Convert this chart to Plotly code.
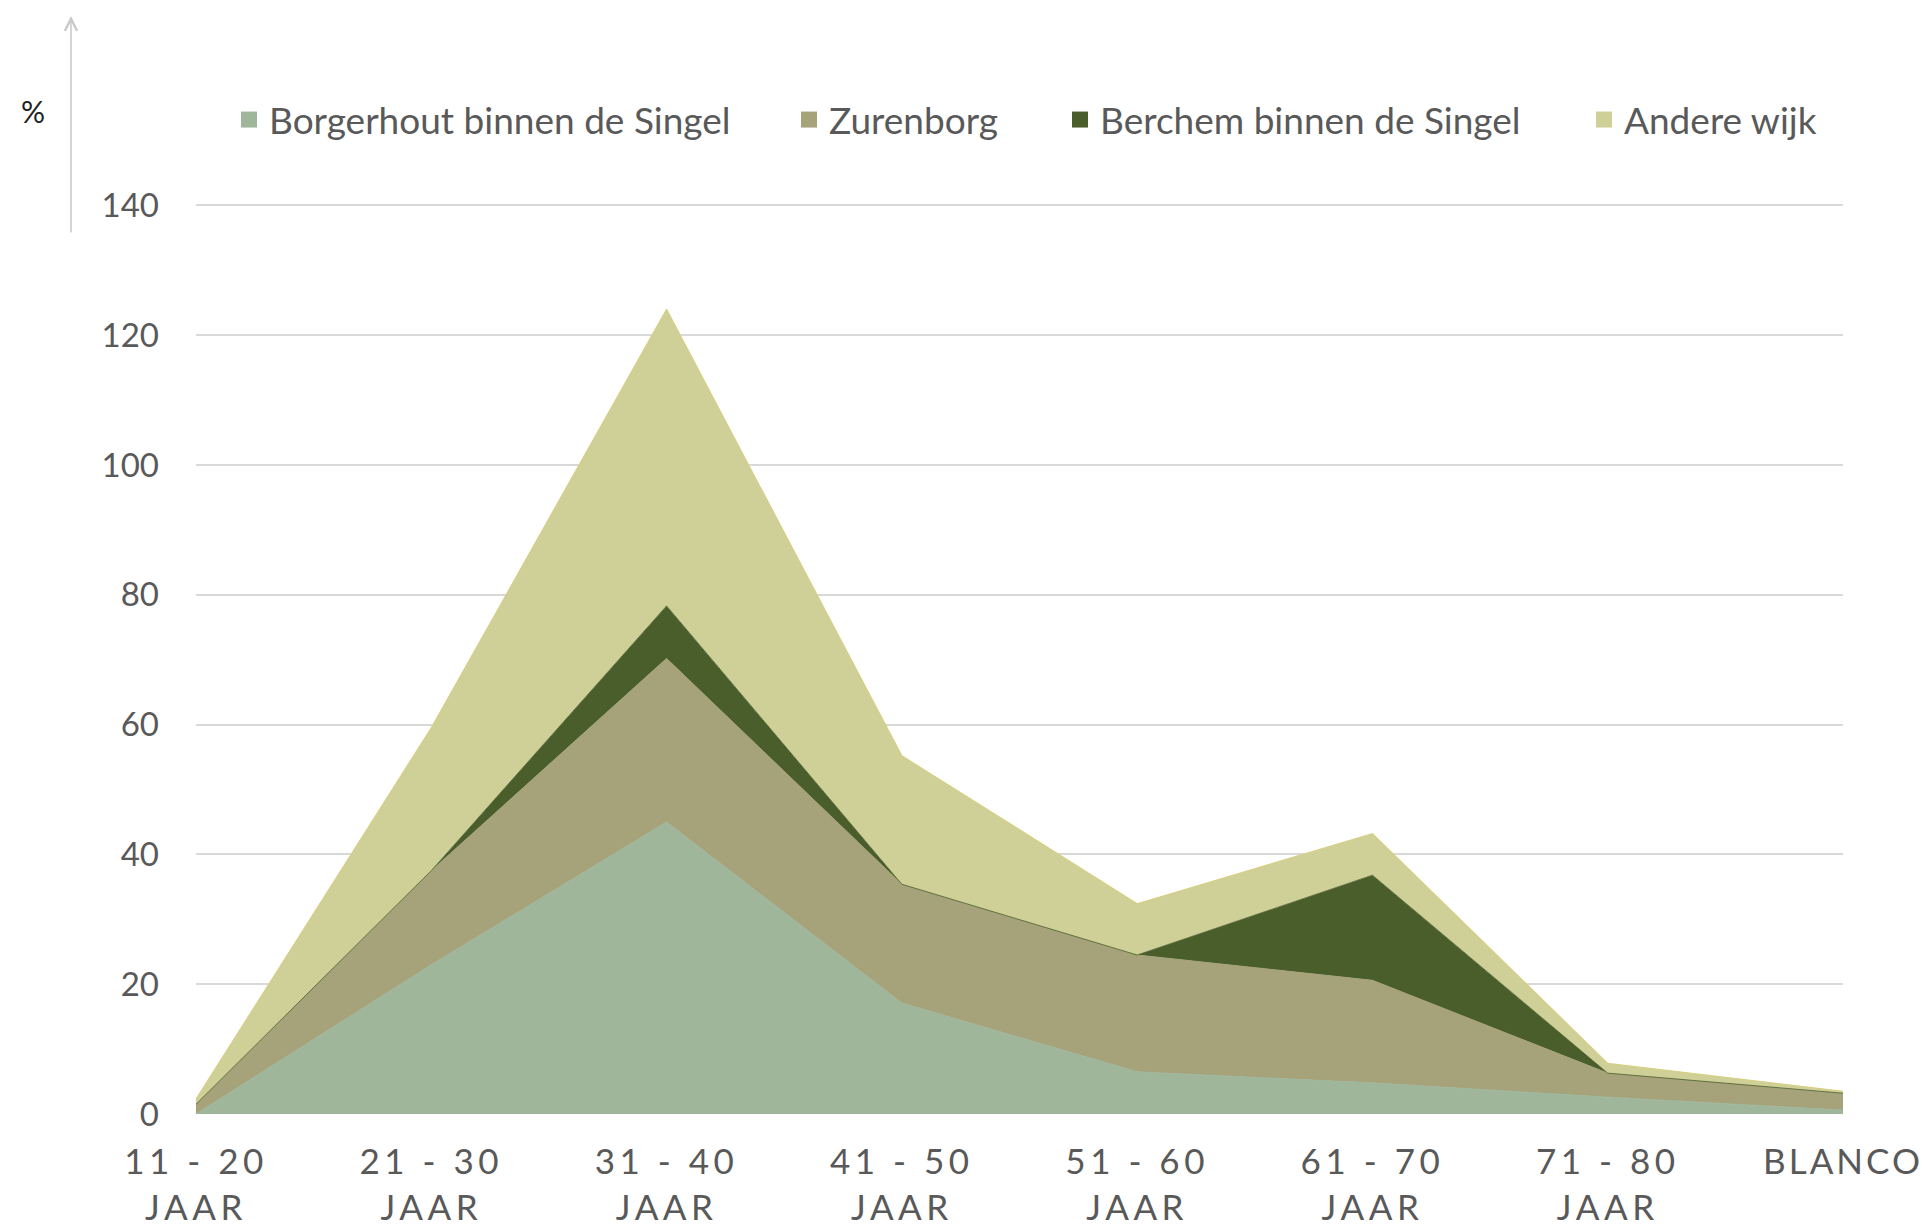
import plotly.graph_objects as go

categories = ["11 - 20<br>JAAR", "21 - 30<br>JAAR", "31 - 40<br>JAAR", "41 - 50<br>JAAR",
              "51 - 60<br>JAAR", "61 - 70<br>JAAR", "71 - 80<br>JAAR", "BLANCO"]

borgerhout = [0.0, 23.0, 45.0, 17.1, 6.5, 4.8, 2.6, 0.6]
zurenborg = [1.5, 14.5, 25.2, 18.3, 18.0, 15.8, 3.7, 2.6]
berchem = [0.0, 0.0, 8.1, 0.0, 0.0, 16.2, 0.0, 0.0]
andere = [0.8, 22.0, 45.7, 19.8, 7.9, 6.4, 1.5, 0.3]

series_names = ["Borgerhout binnen de Singel", "Zurenborg", "Berchem binnen de Singel", "Andere wijk"]
series_values = [borgerhout, zurenborg, berchem, andere]
fill_colors = ["#A0B69B", "#A6A27A", "#4A5E2C", "#CFCF98"]
edge_colors = ["#A0B69B", "#A6A27A", "#4A5E2C", "#D6CF85"]
edge_widths = [1.0, 1.0, 0.8, 1.2]

y_ticks = [0, 20, 40, 60, 80, 100, 120, 140]
Y_MAX = 141

W, H = 1922, 1231
ML, MR, MB = 196, 79, 117
PX_PER_UNIT = (1114 - 205) / 140.0
MT = int(round(205 - (Y_MAX - 140) * PX_PER_UNIT))
PW, PH = W - ML - MR, H - MT - MB

def px_x(x):
    return (x - ML) / PW

def px_y(y):
    return (H - MB - y) / PH

FONT = "Lato"
TXT = "#595959"

fig = go.Figure()
for name, vals, fc, ec, ew in zip(series_names, series_values, fill_colors, edge_colors, edge_widths):
    fig.add_trace(go.Scatter(
        x=categories, y=vals, name=name, mode="lines",
        stackgroup="one", fillcolor=fc,
        line=dict(color=ec, width=ew),
        showlegend=False, hoverinfo="skip",
    ))

# legend entries (square symbols), each in its own legend box
legend_left_px = [229, 789, 1060, 1584]
for i, (name, fc) in enumerate(zip(series_names, fill_colors)):
    lg = "legend" if i == 0 else f"legend{i+1}"
    fig.add_trace(go.Scatter(
        x=[None], y=[None], mode="markers", name=name,
        marker=dict(symbol="square", size=22, color=fc),
        legend=lg, showlegend=True,
    ))

legend_common = dict(
    orientation="h", xanchor="left", yanchor="middle",
    font=dict(family=FONT, size=37, color=TXT),
    bgcolor="rgba(0,0,0,0)", itemsizing="trace",
)
layout_legends = {}
for i, lx in enumerate(legend_left_px):
    key = "legend" if i == 0 else f"legend{i+1}"
    layout_legends[key] = dict(x=px_x(lx), y=px_y(120), **legend_common)

fig.update_layout(
    width=W, height=H,
    margin=dict(l=ML, r=MR, t=MT, b=MB, autoexpand=False),
    plot_bgcolor="white", paper_bgcolor="white",
    xaxis=dict(
        type="category", range=[0, len(categories) - 1],
        showgrid=False, zeroline=False, showline=False, automargin=False,
        tickfont=dict(family=FONT, size=35, color=TXT),
        ticks="", ticklabelstandoff=24,
    ),
    yaxis=dict(
        range=[0, Y_MAX], tickvals=y_ticks,
        showgrid=True, gridcolor="#D9D9D9", gridwidth=2,
        zeroline=False, showline=False, automargin=False,
        tickfont=dict(family=FONT, size=33, color=TXT),
        ticks="", ticklabelstandoff=36,
    ),
    annotations=[
        dict(x=px_x(19), y=px_y(91), xref="paper", yref="paper",
             text="%", showarrow=False, font=dict(family=FONT, size=30, color="#222222")),
        dict(x=px_x(71), y=px_y(16), xref="paper", yref="paper",
             ax=0, ay=218, text="", showarrow=True,
             arrowhead=5, arrowsize=1.6, arrowwidth=1.5, arrowcolor="#C8C8C8"),
    ],
    **layout_legends,
)

post = """
document.body.style.margin='0';
document.body.style.overflow='hidden';
var xt = document.querySelectorAll('.xtick text');
xt.forEach(function(t, i){t.style.letterSpacing = (i === xt.length - 1) ? '3px' : '4.5px';});
"""
fig.write_html("out.html", post_script=post, config={"displayModeBar": False})
